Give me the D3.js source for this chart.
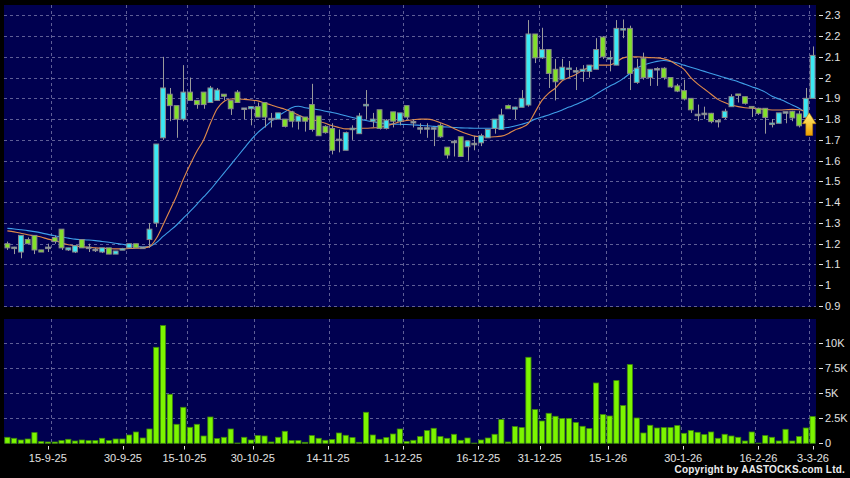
<!DOCTYPE html>
<html><head><meta charset="utf-8">
<script src="https://cdn.jsdelivr.net/npm/d3@7"></script>
<style>html,body{margin:0;padding:0;background:#000;} svg{display:block;font-family:Arial,"Liberation Sans",sans-serif;}</style>
</head><body><svg id="c" width="850" height="478"></svg>
<script>
// ---------------- DATA ----------------
const dates = [
"4-9-25","5-9-25","8-9-25","9-9-25","10-9-25","11-9-25","12-9-25","15-9-25","16-9-25","17-9-25",
"18-9-25","19-9-25","22-9-25","23-9-25","24-9-25","25-9-25","26-9-25","29-9-25","30-9-25","2-10-25",
"3-10-25","6-10-25","8-10-25","9-10-25","10-10-25","13-10-25","14-10-25","15-10-25","16-10-25","17-10-25",
"20-10-25","21-10-25","22-10-25","23-10-25","24-10-25","27-10-25","28-10-25","30-10-25","31-10-25","3-11-25",
"4-11-25","5-11-25","6-11-25","7-11-25","10-11-25","11-11-25","12-11-25","13-11-25","14-11-25","17-11-25",
"18-11-25","19-11-25","20-11-25","21-11-25","24-11-25","25-11-25","26-11-25","27-11-25","28-11-25","1-12-25",
"2-12-25","3-12-25","4-12-25","5-12-25","8-12-25","9-12-25","10-12-25","11-12-25","12-12-25","15-12-25",
"16-12-25","17-12-25","18-12-25","19-12-25","22-12-25","23-12-25","24-12-25","29-12-25","30-12-25","31-12-25",
"2-1-26","5-1-26","6-1-26","7-1-26","8-1-26","9-1-26","12-1-26","13-1-26","14-1-26","15-1-26",
"16-1-26","19-1-26","20-1-26","21-1-26","22-1-26","23-1-26","26-1-26","27-1-26","28-1-26","29-1-26",
"30-1-26","2-2-26","3-2-26","4-2-26","5-2-26","6-2-26","9-2-26","10-2-26","11-2-26","12-2-26",
"13-2-26","16-2-26","20-2-26","23-2-26","24-2-26","25-2-26","26-2-26","27-2-26","2-3-26","3-3-26"];

const opens = [
1.20,1.18,1.16,1.22,1.24,1.17,1.18,1.23,1.27,1.17,
1.16,1.22,1.18,1.17,1.16,1.18,1.15,1.17,1.18,1.20,
1.18,1.22,1.30,1.71,1.92,1.865,1.80,1.93,1.89,1.93,
1.88,1.89,1.92,1.89,1.93,1.85,1.85,1.86,1.88,1.80,
1.80,1.80,1.835,1.79,1.81,1.87,1.815,1.765,1.755,1.70,
1.65,1.75,1.73,1.865,1.79,1.845,1.755,1.835,1.79,1.865,
1.785,1.755,1.755,1.755,1.77,1.665,1.69,1.715,1.667,1.68,
1.686,1.71,1.755,1.75,1.865,1.848,1.857,1.868,2.21,2.095,
2.135,2.04,1.99,2.04,2.03,2.03,2.03,2.04,2.195,2.09,
2.06,2.23,2.237,1.977,2.093,2.00,2.04,2.045,2.00,1.96,
1.937,1.90,1.82,1.825,1.828,1.79,1.808,1.86,1.92,1.908,
1.86,1.852,1.852,1.775,1.78,1.832,1.838,1.825,1.808,1.90];

const highs = [
1.21,1.185,1.24,1.23,1.24,1.17,1.20,1.24,1.27,1.18,
1.19,1.22,1.20,1.18,1.18,1.18,1.165,1.18,1.20,1.20,
1.185,1.30,1.68,2.10,1.95,1.865,2.06,2.00,1.89,1.93,
1.96,1.95,1.92,1.89,1.94,1.85,1.86,1.88,1.88,1.83,
1.83,1.80,1.84,1.815,1.81,1.97,1.815,1.77,1.78,1.75,
1.74,1.77,1.83,1.94,1.83,1.845,1.80,1.835,1.83,1.865,
1.80,1.78,1.78,1.76,1.78,1.665,1.70,1.715,1.695,1.72,
1.73,1.75,1.80,1.85,1.87,1.86,1.94,2.277,2.21,2.24,
2.135,2.09,2.09,2.08,2.05,2.06,2.06,2.19,2.20,2.13,
2.277,2.28,2.25,2.09,2.12,2.04,2.05,2.05,2.00,1.97,
1.99,1.90,1.87,1.86,1.83,1.80,1.85,1.92,1.92,1.908,
1.86,1.855,1.852,1.80,1.83,1.835,1.84,1.84,1.95,2.15];

const lows = [
1.17,1.15,1.13,1.20,1.15,1.16,1.16,1.20,1.17,1.165,
1.155,1.18,1.16,1.16,1.155,1.15,1.15,1.17,1.18,1.18,
1.175,1.18,1.28,1.70,1.79,1.71,1.79,1.89,1.85,1.85,
1.88,1.89,1.89,1.82,1.88,1.80,1.77,1.81,1.76,1.76,
1.80,1.76,1.76,1.75,1.74,1.74,1.72,1.73,1.63,1.64,
1.65,1.70,1.73,1.80,1.76,1.75,1.75,1.76,1.77,1.80,
1.76,1.73,1.71,1.67,1.71,1.61,1.62,1.62,1.60,1.65,
1.67,1.71,1.73,1.75,1.85,1.80,1.857,1.86,2.07,2.09,
1.95,1.89,1.99,2.00,1.94,1.98,2.00,2.04,2.09,2.03,
2.06,2.19,1.94,1.97,1.99,1.96,1.96,1.99,1.95,1.93,
1.89,1.83,1.79,1.80,1.78,1.76,1.80,1.86,1.88,1.87,
1.81,1.82,1.73,1.76,1.78,1.78,1.79,1.76,1.80,1.90];

const closes = [
1.18,1.18,1.24,1.20,1.17,1.16,1.18,1.21,1.18,1.18,
1.19,1.18,1.18,1.17,1.18,1.15,1.165,1.175,1.20,1.18,
1.18,1.27,1.68,1.95,1.865,1.80,1.93,1.89,1.87,1.87,
1.95,1.94,1.91,1.85,1.88,1.85,1.86,1.81,1.81,1.80,
1.83,1.765,1.79,1.815,1.79,1.75,1.72,1.735,1.65,1.70,
1.735,1.755,1.815,1.87,1.80,1.755,1.795,1.79,1.83,1.81,
1.785,1.755,1.755,1.755,1.715,1.627,1.69,1.62,1.695,1.68,
1.72,1.75,1.80,1.82,1.85,1.858,1.90,2.21,2.095,2.135,
2.02,1.98,2.05,2.045,2.03,2.04,2.06,2.135,2.10,2.095,
2.237,2.235,2.02,2.045,2.00,2.04,2.04,2.00,1.955,1.935,
1.897,1.845,1.82,1.825,1.788,1.79,1.838,1.908,1.915,1.876,
1.855,1.828,1.808,1.78,1.83,1.832,1.806,1.768,1.90,2.107];

// volume in thousands
const volumes = [
0.6,0.5,0.33,0.43,1.07,0.17,0.13,0.13,0.27,0.4,
0.23,0.33,0.27,0.27,0.5,0.27,0.43,0.43,0.83,1.13,
0.53,1.43,9.6,11.77,4.9,1.9,3.6,1.6,1.9,0.73,
2.63,0.47,0.6,1.43,0.03,0.6,0.33,0.77,0.73,0.13,
0.6,1.2,0.27,0.27,0.1,0.77,0.5,0.3,0.37,1.03,
0.8,0.57,0.1,3.1,0.83,0.4,0.57,0.93,1.43,0.17,
0.3,0.67,1.27,1.5,0.67,0.5,0.9,0.3,0.53,0.02,
0.33,0.53,0.9,2.37,0.13,1.67,1.57,8.6,3.37,2.23,
3.0,2.7,2.47,2.47,2.07,1.7,1.47,6.03,2.87,2.73,
6.27,3.77,7.87,2.53,1.03,1.8,1.53,1.57,1.57,1.77,
1.0,1.27,1.1,0.87,1.13,0.5,0.9,0.73,0.6,0.23,
1.13,0.02,0.77,0.6,0.23,1.4,0.23,0.67,1.53,2.67];

const ma10 = [
1.262,1.257,1.250,1.243,1.238,1.232,1.222,1.215,1.205,1.195,
1.190,1.185,1.183,1.180,1.178,1.177,1.175,1.175,1.177,1.178,
1.180,1.186,1.225,1.29,1.36,1.43,1.51,1.58,1.645,1.70,
1.78,1.85,1.885,1.897,1.897,1.895,1.892,1.888,1.878,1.868,
1.857,1.848,1.835,1.82,1.805,1.797,1.79,1.78,1.768,1.76,
1.753,1.753,1.756,1.756,1.758,1.76,1.768,1.777,1.787,1.793,
1.797,1.80,1.80,1.795,1.783,1.77,1.755,1.74,1.728,1.718,
1.715,1.714,1.715,1.718,1.73,1.748,1.76,1.78,1.835,1.89,
1.925,1.95,1.985,2.00,2.015,2.035,2.05,2.06,2.06,2.06,
2.075,2.095,2.10,2.10,2.098,2.096,2.095,2.09,2.08,2.06,
2.04,2.00,1.97,1.945,1.92,1.895,1.88,1.868,1.86,1.855,
1.852,1.85,1.846,1.844,1.844,1.845,1.847,1.845,1.836,null];

const ma20 = [
1.274,1.271,1.267,1.263,1.258,1.252,1.245,1.238,1.232,1.227,
1.222,1.220,1.218,1.215,1.211,1.207,1.202,1.197,1.191,1.187,
1.184,1.186,1.205,1.235,1.262,1.29,1.323,1.356,1.39,1.425,
1.46,1.50,1.54,1.58,1.62,1.66,1.70,1.735,1.762,1.79,
1.815,1.835,1.855,1.862,1.855,1.85,1.845,1.838,1.832,1.825,
1.816,1.808,1.80,1.793,1.787,1.782,1.778,1.776,1.775,1.774,
1.772,1.77,1.768,1.765,1.763,1.762,1.76,1.758,1.757,1.756,
1.756,1.756,1.756,1.756,1.76,1.767,1.775,1.785,1.80,1.81,
1.82,1.832,1.844,1.858,1.87,1.885,1.90,1.92,1.94,1.958,
1.975,1.995,2.02,2.045,2.06,2.07,2.078,2.082,2.078,2.07,
2.06,2.05,2.04,2.03,2.02,2.01,2.00,1.99,1.98,1.968,
1.956,1.945,1.93,1.91,1.897,1.884,1.868,1.852,1.83,null];

const xTickLabels = ["15-9-25","30-9-25","15-10-25","30-10-25","14-11-25","1-12-25","16-12-25","31-12-25","15-1-26","30-1-26","16-2-26","3-3-26"];
const priceTicks = [0.9,1.0,1.1,1.2,1.3,1.4,1.5,1.6,1.7,1.8,1.9,2.0,2.1,2.2,2.3];
const volTicks = [0,2.5,5,7.5,10];
const volTickLabels = ["0","2.5K","5K","7.5K","10K"];
const arrowMark = {date:"3-3-26", value:1.83};
const copyright = "Copyright by AASTOCKS.com Ltd.";

// ---------------- LAYOUT ----------------
const L = 4, R = 816;
const mainTop = 5, mainBot = 307;
const volTop = 319, volBot = 443.5;

const svg = d3.select("#c");
svg.append("rect").attr("width",850).attr("height",478).attr("fill","#000");

const x = d3.scaleBand().domain(dates).range([L, R]).paddingInner(0).paddingOuter(0);
const xLab = d3.scalePoint().domain(dates).range([0, 813]);
const cx = d => x(d) + x.bandwidth()/2;
const y = d3.scaleLinear().domain([0.9, 2.3]).range([306, 15.3]);
const yv = d3.scaleLinear().domain([0, 10]).range([443.3, 343.3]);

const BG = "#000050", GRID = "#5e5e96", TXT = "#e2e2e2";

// panels
svg.append("rect").attr("x",L).attr("y",mainTop).attr("width",R-L).attr("height",mainBot-mainTop).attr("fill",BG);
svg.append("rect").attr("x",L).attr("y",volTop).attr("width",R-L).attr("height",volBot-volTop).attr("fill",BG);

// gridlines main
const gMain = svg.append("g");
gMain.selectAll("line.h").data(priceTicks).join("line")
  .attr("x1",L).attr("x2",R).attr("y1",d=>Math.round(y(d))+0.5).attr("y2",d=>Math.round(y(d))+0.5)
  .attr("stroke",GRID).attr("stroke-dasharray","3,3").attr("stroke-width",1);
gMain.selectAll("line.v").data(xTickLabels).join("line")
  .attr("x1",d=>Math.round(x(d))+0.5).attr("x2",d=>Math.round(x(d))+0.5).attr("y1",mainTop).attr("y2",mainBot)
  .attr("stroke",GRID).attr("stroke-dasharray","3,3").attr("stroke-width",1);

// gridlines volume
const gVol = svg.append("g");
gVol.selectAll("line.h").data(volTicks.filter(v=>v>0)).join("line")
  .attr("x1",L).attr("x2",R).attr("y1",d=>Math.round(yv(d))+0.5).attr("y2",d=>Math.round(yv(d))+0.5)
  .attr("stroke",GRID).attr("stroke-dasharray","3,3");
gVol.selectAll("line.v").data(xTickLabels).join("line")
  .attr("x1",d=>Math.round(x(d))+0.5).attr("x2",d=>Math.round(x(d))+0.5).attr("y1",volTop).attr("y2",volBot)
  .attr("stroke",GRID).attr("stroke-dasharray","3,3");

// MA lines
const line = d3.line().defined(d=>d.v!=null).x(d=>cx(d.d)).y(d=>y(d.v)).curve(d3.curveMonotoneX);
svg.append("path").datum(dates.map((d,i)=>({d, v:ma20[i]})))
  .attr("d",line).attr("fill","none").attr("stroke","#3f9fe8").attr("stroke-width",1.1);
svg.append("path").datum(dates.map((d,i)=>({d, v:ma10[i]})))
  .attr("d",line).attr("fill","none").attr("stroke","#e08a4a").attr("stroke-width",1.1);

// candles
const candles = dates.map((d,i)=>({d, o:opens[i], h:highs[i], l:lows[i], c:closes[i]}));
const gC = svg.append("g");
gC.selectAll("line.w").data(candles).join("line")
  .attr("x1",d=>Math.round(cx(d.d))+0.5).attr("x2",d=>Math.round(cx(d.d))+0.5)
  .attr("y1",d=>y(d.h)).attr("y2",d=>y(d.l))
  .attr("stroke","#9a9a9a").attr("stroke-width",1);
const bw = 4.8;
gC.selectAll("rect").data(candles).join("rect")
  .attr("x",d=>cx(d.d)-bw/2)
  .attr("y",d=>{const t=y(Math.max(d.o,d.c)), b=y(Math.min(d.o,d.c)); return (b-t)<1.5 ? (t+b)/2-0.75 : t;})
  .attr("width",bw)
  .attr("height",d=>Math.max(1.5, y(Math.min(d.o,d.c))-y(Math.max(d.o,d.c))))
  .attr("fill",d=> Math.abs(d.c-d.o)<0.004 ? "#8fb8c8" : (d.c>d.o ? "#3ae8f4" : "#82e02a"))
  .attr("stroke","#8a8a8a").attr("stroke-width",1);

// arrow marker
const defs = svg.append("defs");
const grad = defs.append("linearGradient").attr("id","ag").attr("x1",0).attr("x2",0).attr("y1",0).attr("y2",1);
grad.append("stop").attr("offset","0%").attr("stop-color","#fff27a");
grad.append("stop").attr("offset","100%").attr("stop-color","#f0a000");
const ax = x(arrowMark.date), ay = y(arrowMark.value);
svg.append("path")
  .attr("d",`M${ax},${ay} L${ax+6.8},${ay+10.8} L${ax+3.4},${ay+10.8} L${ax+3.4},${ay+22.5} L${ax-3.4},${ay+22.5} L${ax-3.4},${ay+10.8} L${ax-6.8},${ay+10.8} Z`)
  .attr("fill","url(#ag)").attr("stroke","#c08000").attr("stroke-width",0.6);

// volume bars
const vb = 5.2;
svg.append("g").selectAll("rect").data(dates.map((d,i)=>({d, v:volumes[i]}))).join("rect")
  .attr("x",d=>cx(d.d)-vb/2).attr("width",vb)
  .attr("y",d=>yv(d.v)).attr("height",d=>Math.max(0, yv(0)-yv(d.v)))
  .attr("fill","#7cf500").attr("stroke","#3f8a0a").attr("stroke-width",0.8);

// right price axis
const gA = svg.append("g").attr("font-size","11px").attr("fill",TXT);
gA.selectAll("line").data(priceTicks).join("line")
  .attr("x1",819).attr("x2",823).attr("y1",d=>Math.round(y(d))+0.5).attr("y2",d=>Math.round(y(d))+0.5)
  .attr("stroke",TXT);
gA.selectAll("text").data(priceTicks).join("text")
  .attr("x",825).attr("y",d=>y(d)).attr("dy","0.36em")
  .text(d=>d3.format("~g")(d));

// right volume axis
const gV = svg.append("g").attr("font-size","11px").attr("fill",TXT);
gV.selectAll("line").data(volTicks).join("line")
  .attr("x1",819).attr("x2",823).attr("y1",d=>Math.round(yv(d))+0.5).attr("y2",d=>Math.round(yv(d))+0.5)
  .attr("stroke",TXT);
gV.selectAll("text").data(volTicks).join("text")
  .attr("x",825).attr("y",d=>yv(d)).attr("dy","0.36em")
  .text((d,i)=>volTickLabels[i]);

// x axis labels
const gX = svg.append("g").attr("font-size","11px").attr("fill",TXT);
gX.selectAll("line").data(xTickLabels).join("line")
  .attr("x1",d=>Math.round(xLab(d))+0.5).attr("x2",d=>Math.round(xLab(d))+0.5).attr("y1",446).attr("y2",449.5)
  .attr("stroke",TXT);
gX.selectAll("text").data(xTickLabels).join("text")
  .attr("x",d=>xLab(d)).attr("y",462).attr("text-anchor","middle").text(d=>d);

// copyright
svg.append("text").attr("x",845).attr("y",473).attr("text-anchor","end")
  .attr("font-size","10px").attr("font-weight","bold").attr("fill","#ececec")
  .attr("letter-spacing","0.2px").text(copyright);
</script></body></html>
